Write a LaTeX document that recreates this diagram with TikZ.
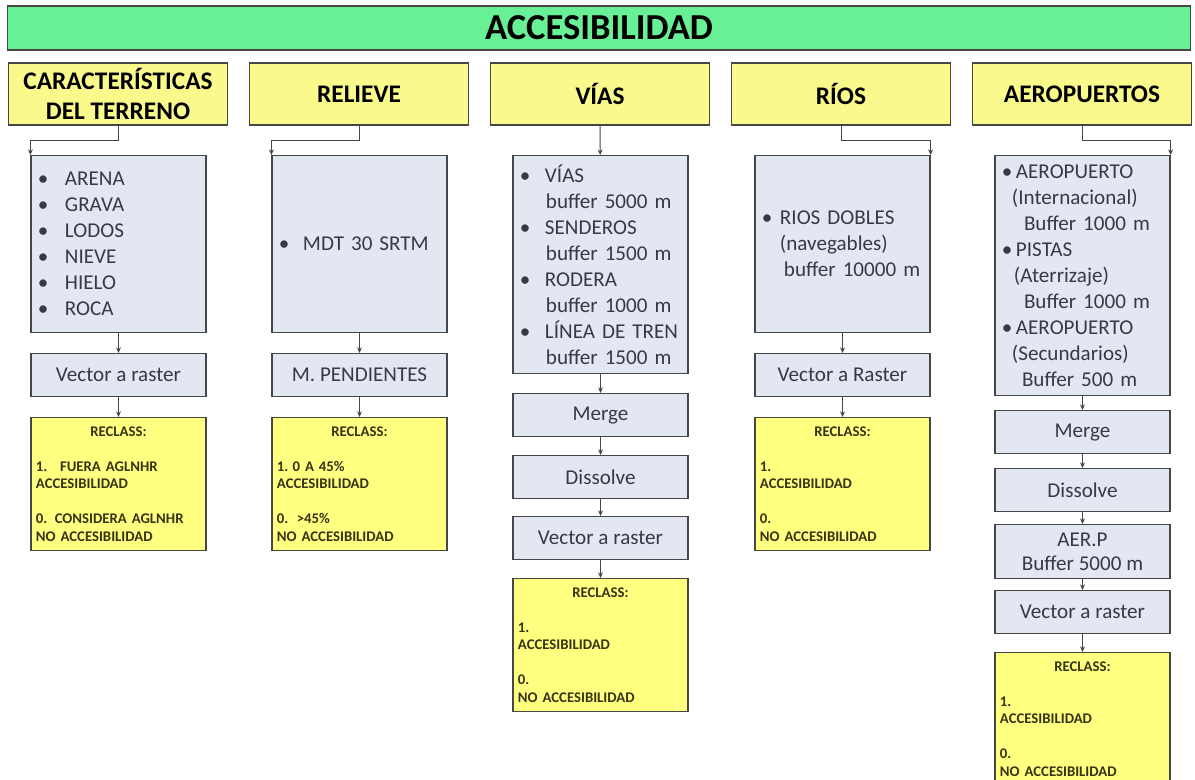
\documentclass[tikz,border=0pt]{standalone}
\usepackage{fontspec}
\setmainfont{Carlito}
\usetikzlibrary{arrows.meta}

\definecolor{barGreen}{RGB}{104,240,150}
\definecolor{headYellow}{RGB}{250,250,140}
\definecolor{reclassYellow}{RGB}{255,255,128}
\definecolor{stepGray}{RGB}{226,231,241}
\definecolor{lineGray}{RGB}{70,70,70}
\definecolor{txtGray}{RGB}{55,58,68}
\definecolor{txtOlive}{RGB}{55,52,20}

\newcommand{\bul}[1]{\makebox[#1][l]{\textbullet}}
\newcommand{\reclasstxt}[2]{\makebox[\linewidth]{RECLASS:}\\[12.4pt]#1\\ACCESIBILIDAD\\[12.4pt]#2\\NO ACCESIBILIDAD}

\begin{document}
\begin{tikzpicture}[x=0.025cm,y=-0.025cm,
    title/.style={draw=lineGray, fill=barGreen, line width=0.8pt, minimum width=29.55cm, minimum height=1.1cm, font=\fontsize{26}{28}\selectfont\bfseries},
    header/.style={draw=lineGray, fill=headYellow, line width=0.8pt, minimum width=5.475cm, minimum height=1.55cm, inner sep=1pt, align=center, font=\fontsize{18}{21}\selectfont\bfseries},
    listbox/.style={draw=lineGray, fill=stepGray, line width=0.8pt, text width=4.025cm, inner xsep=0.175cm, anchor=north, align=left, text=txtGray, font=\fontsize{15}{18.5}\selectfont},
    procbox/.style={draw=lineGray, fill=stepGray, line width=0.8pt, minimum width=4.375cm, minimum height=1.075cm, anchor=north, align=center, text=txtGray, font=\fontsize{15}{17}\selectfont},
    reclass/.style={draw=lineGray, fill=reclassYellow, line width=0.8pt, text width=4.125cm, inner xsep=0.125cm, minimum height=3.325cm, anchor=north, align=left, text=txtOlive, font=\fontsize{10.5}{12.4}\selectfont\bfseries},
    link/.style={draw=lineGray, line width=0.6pt, -{Stealth[length=4pt,width=3.5pt]}}]
\useasboundingbox (0,0) rectangle (1195,779);

\node[title] (acc) at (599,28) {ACCESIBILIDAD};

% cabeceras
\node[header] (h1) at (118,94) {CARACTERÍSTICAS\\DEL TERRENO};
\node[header] (h2) at (359,94) {RELIEVE};
\node[header] (h3) at (600,94) {VÍAS};
\node[header] (h4) at (841,94) {RÍOS};
\node[header] (h5) at (1082,94) {AEROPUERTOS};

% terreno
\node[listbox, minimum height=4.425cm] (l1) at (118.5,155) {\bul{0.675cm}ARENA\\\bul{0.675cm}GRAVA\\\bul{0.675cm}LODOS\\\bul{0.675cm}NIEVE\\\bul{0.675cm}HIELO\\\bul{0.675cm}ROCA};
\node[procbox] (p1) at (118.5,353) {Vector a raster};
\node[reclass] (r1) at (118.5,417) {\reclasstxt{1.\hspace{9pt}FUERA AGLNHR}{0. CONSIDERA AGLNHR}};

% relieve
\node[listbox, minimum height=4.425cm] (l2) at (359.5,155) {\bul{0.6cm}MDT 30 SRTM};
\node[procbox] (p2) at (359.5,353) {M. PENDIENTES};
\node[reclass] (r2) at (359.5,417) {\reclasstxt{1.\hspace{3pt}0 A 45\%}{0.\hspace{6pt}>45\%}};

% vias
\node[listbox, minimum height=5.45cm] (l3) at (600.5,155) {\bul{0.625cm}VÍAS\\\hspace*{0.65cm}buffer 5000 m\\\bul{0.625cm}SENDEROS\\\hspace*{0.65cm}buffer 1500 m\\\bul{0.625cm}RODERA\\\hspace*{0.65cm}buffer 1000 m\\\bul{0.625cm}LÍNEA DE TREN\\\hspace*{0.65cm}buffer 1500 m};
\node[procbox] (m3) at (600.5,393) {Merge};
\node[procbox] (d3) at (600.5,455) {Dissolve};
\node[procbox] (p3) at (600.5,516) {Vector a raster};
\node[reclass] (r3) at (600.5,578) {\reclasstxt{1.}{0.}};

% rios
\node[listbox, minimum height=4.425cm] (l4) at (842.5,155) {\bul{0.45cm}RIOS DOBLES\\\hspace*{0.45cm}(navegables)\\\hspace*{0.55cm}buffer 10000 m\\[18pt]};
\node[procbox] (p4) at (842.5,353) {Vector a Raster};
\node[reclass] (r4) at (842.5,417) {\reclasstxt{1.}{0.}};

% aeropuertos
\node[listbox, minimum height=6cm] (l5) at (1082.5,155) {\bul{0.35cm}AEROPUERTO\\\hspace*{0.25cm}(Internacional)\\\hspace*{0.55cm}Buffer 1000 m\\\bul{0.35cm}PISTAS\\\hspace*{0.3cm}(Aterrizaje)\\\hspace*{0.55cm}Buffer 1000 m\\\bul{0.35cm}AEROPUERTO\\\hspace*{0.25cm}(Secundarios)\\\hspace*{0.5cm}Buffer 500 m};
\node[procbox] (m5) at (1082.5,410) {Merge};
\node[procbox] (d5) at (1082.5,468) {Dissolve};
\node[procbox, minimum height=1.35cm] (b5) at (1082.5,524) {AER.P\\Buffer 5000 m};
\node[procbox] (p5) at (1082.5,590) {Vector a raster};
\node[reclass] (r5) at (1082.5,652) {\reclasstxt{1.}{0.}};

% conectores
\draw[link] (h1.south) -- ++(0,15) -| (l1.north west);
\draw[link] (h2.south) -- ++(0,15) -| (l2.north west);
\draw[link] (h3) -- (l3);
\draw[link] (h4.south) -- ++(0,15) -| (l4.north east);
\draw[link] (h5.south) -- ++(0,15) -| (l5.north east);

\draw[link] (l1) -- (p1);
\draw[link] (p1) -- (r1);
\draw[link] (l2) -- (p2);
\draw[link] (p2) -- (r2);
\draw[link] (l3) -- (m3);
\draw[link] (m3) -- (d3);
\draw[link] (d3) -- (p3);
\draw[link] (p3) -- (r3);
\draw[link] (l4) -- (p4);
\draw[link] (p4) -- (r4);
\draw[link] (l5) -- (m5);
\draw[link] (m5) -- (d5);
\draw[link] (d5) -- (b5);
\draw[link] (b5) -- (p5);
\draw[link] (p5) -- (r5);
\end{tikzpicture}
\end{document}
